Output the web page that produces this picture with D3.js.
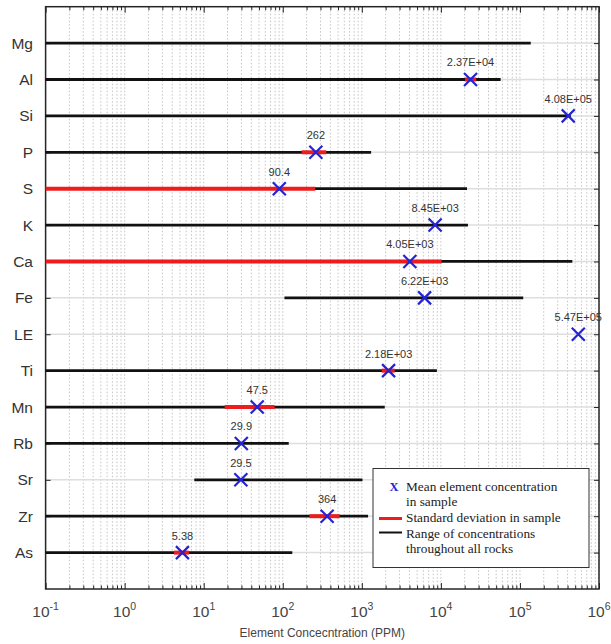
<!DOCTYPE html>
<html>
<head>
<style>
  body { margin: 0; background: #fff; }
  text { font-family: "Liberation Sans", Arial, sans-serif; }
</style>
</head>
<body>
<script src="https://d3js.org/d3.v7.min.js"></script>
<script>

const width = 611;
const height = 644;

// data
const elements = ['Mg', 'Al', 'Si', 'P', 'S', 'K', 'Ca', 'Fe', 'LE', 'Ti', 'Mn', 'Rb', 'Sr', 'Zr', 'As'];
const rangeLow  = [0.1, 0.1, 0.1, 0.1, 0.1, 0.1, 0.1, 105, null, 0.1, 0.1, 0.1, 7.6, 0.1, 0.1];
const rangeHigh = [1.37e5, 5.7e4, 4.4e5, 1.31e3, 2.14e4, 2.2e4, 4.6e5, 1.1e5, null, 8.9e3, 1.95e3, 119, 1.02e3, 1.2e3, 132];
const means     = [null, 2.37e4, 4.08e5, 262, 90.4, 8.45e3, 4.05e3, 6.22e3, 5.47e5, 2.18e3, 47.5, 29.9, 29.5, 364, 5.38];
const meanLabels = ['', '2.37E+04', '4.08E+05', '262', '90.4', '8.45E+03', '4.05E+03', '6.22E+03', '5.47E+05',
                    '2.18E+03', '47.5', '29.9', '29.5', '364', '5.38'];
const sdLow  = [null, 2.02e4, null, 173, 0.1, null, 0.1, null, null, 1.78e3, 18.4, null, null, 217, 4.2];
const sdHigh = [null, 2.8e4, null, 355, 257, null, 1.02e4, null, null, 2.6e3, 79, null, null, 525, 6.5];
const decades = [-1, 0, 1, 2, 3, 4, 5, 6];
const legendItems = ['Mean element concentration', 'in sample', 'Standard  deviation in sample',
                     'Range  of concentrations', 'throughout all rocks'];

const plotL = 45.6, plotR = 599, plotT = 6.7, plotB = 589;

const svg = d3.select('body')
              .append('svg')
              .attr('width', width)
              .attr('height', height);

const x = d3.scaleLog()
            .domain([0.1, 1e6])
            .range([plotL, plotR])
            .clamp(true);

const y = d3.scalePoint()
            .domain(elements)
            .range([plotT, plotB])
            .padding(1);

const minors = [];
decades.slice(0, -1).forEach(e => {
  for (let k = 2; k <= 9; k++) minors.push(k * Math.pow(10, e));
});
const majors = decades.map(e => Math.pow(10, e));

// grid
svg.append('g')
   .selectAll('line')
   .data(minors.concat(majors))
   .enter()
   .append('line')
   .attr('x1', d => x(d)).attr('x2', d => x(d))
   .attr('y1', plotT).attr('y2', plotB)
   .attr('stroke', '#c4c4c4')
   .attr('stroke-width', 1)
   .attr('stroke-dasharray', '1.5,2');

svg.append('g')
   .selectAll('line')
   .data(elements)
   .enter()
   .append('line')
   .attr('x1', plotL).attr('x2', plotR)
   .attr('y1', d => y(d)).attr('y2', d => y(d))
   .attr('stroke', '#dedede')
   .attr('stroke-width', 1.5);

// axes (ticks pointing inward)
const axisStyle = g => {
  g.select('.domain').remove();
  g.selectAll('line').attr('stroke', '#222');
  g.selectAll('text').remove();
};

svg.append('g').attr('transform', `translate(0,${plotB})`)
   .call(d3.axisBottom(x).tickValues(majors).tickSize(-6)).call(axisStyle);
svg.append('g').attr('transform', `translate(0,${plotB})`)
   .call(d3.axisBottom(x).tickValues(minors).tickSize(-3.5)).call(axisStyle);
svg.append('g').attr('transform', `translate(0,${plotT})`)
   .call(d3.axisTop(x).tickValues(majors).tickSize(-6)).call(axisStyle);
svg.append('g').attr('transform', `translate(0,${plotT})`)
   .call(d3.axisTop(x).tickValues(minors).tickSize(-3.5)).call(axisStyle);
svg.append('g').attr('transform', `translate(${plotR},0)`)
   .call(d3.axisRight(y).tickSize(-5)).call(axisStyle);
svg.append('g').attr('transform', `translate(${plotL},0)`)
   .call(d3.axisLeft(y).tickSize(-5)).call(axisStyle);

svg.append('rect')
   .attr('x', plotL).attr('y', plotT)
   .attr('width', plotR - plotL).attr('height', plotB - plotT)
   .attr('fill', 'none')
   .attr('stroke', '#262626')
   .attr('stroke-width', 1.5);

// y labels
svg.append('g')
   .selectAll('text')
   .data(elements)
   .enter()
   .append('text')
   .attr('x', 33)
   .attr('y', d => y(d))
   .attr('dy', '0.36em')
   .attr('text-anchor', 'end')
   .attr('font-size', 15.5)
   .attr('fill', '#333')
   .text(d => d);

// x labels with superscripts
const xl = svg.append('g')
              .selectAll('text')
              .data(decades)
              .enter()
              .append('text')
              .attr('x', d => x(Math.pow(10, d)))
              .attr('y', 617)
              .attr('text-anchor', 'middle')
              .attr('fill', '#444');
xl.append('tspan').attr('font-size', 15.5).text('10');
xl.append('tspan').attr('font-size', 10.5).attr('dy', -7).text(d => d);

svg.append('text')
   .attr('x', (plotL + plotR) / 2)
   .attr('y', 637)
   .attr('text-anchor', 'middle')
   .attr('font-size', 12)
   .attr('fill', '#444')
   .text('Element Concecntration (PPM)');

// ranges
const idx = d3.range(elements.length);

svg.append('g')
   .selectAll('line')
   .data(idx.filter(i => rangeHigh[i] != null))
   .enter()
   .append('line')
   .attr('x1', i => x(rangeLow[i])).attr('x2', i => x(rangeHigh[i]))
   .attr('y1', i => y(elements[i])).attr('y2', i => y(elements[i]))
   .attr('stroke', '#111')
   .attr('stroke-width', 2.8);

svg.append('g')
   .selectAll('line')
   .data(idx.filter(i => sdHigh[i] != null))
   .enter()
   .append('line')
   .attr('x1', i => x(sdLow[i])).attr('x2', i => x(sdHigh[i]))
   .attr('y1', i => y(elements[i])).attr('y2', i => y(elements[i]))
   .attr('stroke', '#ee1c1c')
   .attr('stroke-width', 4);

// means
const m = svg.append('g')
             .selectAll('g')
             .data(idx.filter(i => means[i] != null))
             .enter()
             .append('g')
             .attr('transform', i => `translate(${x(means[i])},${y(elements[i])})`);

const s = 6.5;
m.append('path')
 .attr('d', `M${-s},${-s}L${s},${s}M${-s},${s}L${s},${-s}`)
 .attr('stroke', '#2424d4')
 .attr('stroke-width', 2.2)
 .attr('fill', 'none');

m.append('text')
 .attr('y', -13)
 .attr('text-anchor', 'middle')
 .attr('font-size', 11)
 .attr('fill', '#333')
 .text(i => meanLabels[i]);

// legend
const lg = svg.append('g');
lg.append('rect')
  .attr('x', 373).attr('y', 468.5)
  .attr('width', 216).attr('height', 99)
  .attr('fill', '#fff')
  .attr('stroke', '#333')
  .attr('stroke-width', 1);

const serif = '"Liberation Serif", "Times New Roman", serif';
const rowY = [491, 506, 522, 538, 553];

lg.selectAll('text.item')
  .data(legendItems)
  .enter()
  .append('text')
  .attr('class', 'item')
  .attr('x', 406)
  .attr('y', (d, i) => rowY[i])
  .attr('font-size', 13.3)
  .attr('fill', '#222')
  .style('font-family', serif)
  .text(d => d);

lg.append('text')
  .attr('x', 394).attr('y', 491)
  .attr('text-anchor', 'middle')
  .attr('font-size', 12.5)
  .attr('font-weight', 'bold')
  .attr('fill', '#2424d4')
  .style('font-family', serif)
  .text('X');

lg.append('line')
  .attr('x1', 379).attr('x2', 402)
  .attr('y1', 518.5).attr('y2', 518.5)
  .attr('stroke', '#ee1c1c').attr('stroke-width', 3);

lg.append('line')
  .attr('x1', 379).attr('x2', 402)
  .attr('y1', 532.5).attr('y2', 532.5)
  .attr('stroke', '#111').attr('stroke-width', 2);

</script>
</body>
</html>
